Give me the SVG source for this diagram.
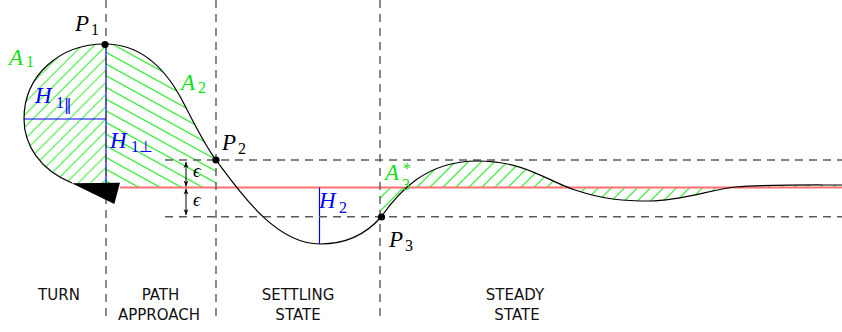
<svg xmlns="http://www.w3.org/2000/svg" width="842" height="332" viewBox="0 0 842 332">
<style>
.dash{stroke:#5a5a5a;stroke-width:1.4;stroke-dasharray:8 6;fill:none}
.curve{stroke:#000;stroke-width:1.2;fill:none}
.blue{stroke:#0000ff;stroke-width:1.2;fill:none}
.math{font-family:"Liberation Serif","DejaVu Serif",serif;font-style:italic;font-size:23px}
.sub{font-family:"Liberation Serif","DejaVu Serif",serif;font-style:normal;font-size:16px}
.g{fill:#10e010}
.b{fill:#0000ff}
.k{fill:#000}
.lab{font-family:"DejaVu Sans",sans-serif;font-size:15px;fill:#111;text-anchor:middle}
.dot{fill:#000}
.hl{stroke:#22e622;stroke-width:1;fill:none}
</style>
<defs>
<pattern id="hNE" patternUnits="userSpaceOnUse" width="40" height="8.6" patternTransform="rotate(-45)">
<path class="hl" d="M0,4 H40"/>
</pattern>
<pattern id="hNE3" patternUnits="userSpaceOnUse" width="40" height="9.2" patternTransform="rotate(-45)">
<path class="hl" d="M0,4 H40"/>
</pattern>
<pattern id="hNW" patternUnits="userSpaceOnUse" width="40" height="10.25" patternTransform="rotate(28.8)">
<path class="hl" d="M0,5 H40"/>
</pattern>
<clipPath id="cA1"><path d="M105,44 C60,44 24,75 24,119 C24,145 40,170 72,183 L106,187.5 Z"/></clipPath>
<clipPath id="cA2"><path d="M106,44 C140,44 165,68 182,100 C192,119 204,144 216,160 L216,187.5 L106,187.5 Z"/></clipPath>
<clipPath id="cA3"><path clip-rule="evenodd" d="M381,217 C398,193 425,161 477,161 C525,161 545,180 575,190 C605,200 625,201 650,201 C680,201 710,190 735,187 C770,184.5 800,185 842,185 L842,187.5 L380,187.5 L380,218 Z"/></clipPath>
<marker id="ar" viewBox="0 0 10 10" refX="10" refY="5" markerWidth="6" markerHeight="6" orient="auto-start-reverse" markerUnits="userSpaceOnUse">
<path d="M0,1 L10,5 L0,9 L3,5 Z" fill="#000"/>
</marker>
</defs>

<g id="hatching">
<rect x="0" y="30" width="120" height="170" fill="url(#hNE)" clip-path="url(#cA1)"/>
<rect x="100" y="30" width="130" height="170" fill="url(#hNW)" clip-path="url(#cA2)"/>
<rect x="375" y="150" width="467" height="80" fill="url(#hNE3)" clip-path="url(#cA3)"/>
</g>

<g id="reference-line">
<line x1="120" y1="187.5" x2="842" y2="187.5" stroke="#ff7070" stroke-width="1.8"/>
</g>

<g id="heights">
<line class="blue" x1="106" y1="44" x2="106" y2="187.5"/>
<line class="blue" x1="24" y1="119" x2="106" y2="119"/>
<line class="blue" x1="319.5" y1="187.5" x2="319.5" y2="244"/>
</g>

<g id="connectors">
<line class="dash" x1="106" y1="0" x2="106" y2="322"/>
<line class="dash" x1="216" y1="0" x2="216" y2="322"/>
<line class="dash" x1="380" y1="0" x2="380" y2="322"/>
<line class="dash" x1="165" y1="160" x2="842" y2="160"/>
<line class="dash" x1="165" y1="216.7" x2="842" y2="216.7"/>
<line x1="186" y1="162" x2="186" y2="186.5" stroke="#000" stroke-width="1" marker-start="url(#ar)" marker-end="url(#ar)"/>
<line x1="186" y1="188.5" x2="186" y2="215" stroke="#000" stroke-width="1" marker-start="url(#ar)" marker-end="url(#ar)"/>
</g>

<g id="path">
<path class="curve" d="M72,183 C40,170 24,145 24,119 C24,75 60,44 105,44 C140,44 165,68 182,100 C192,119 204,144 216,160 C240,192 275,244 320,244 C350,244 368,232 381,217 C398,193 425,161 477,161 C525,161 545,180 575,190 C605,200 625,201 650,201 C680,201 710,190 735,187 C770,184.5 800,185 842,185"/>
</g>

<g id="vehicle">
<path d="M71.7,183.3 L120,182.7 L114.3,204 Z" fill="#000"/>
</g>

<g id="P1"><circle class="dot" cx="105" cy="44.5" r="3.6"/>
<text class="math k" x="75" y="31">P<tspan class="sub" x="91" y="35">1</tspan></text></g>
<g id="P2"><circle class="dot" cx="216" cy="160" r="3.6"/>
<text class="math k" x="222" y="150">P<tspan class="sub" x="238" y="154">2</tspan></text></g>
<g id="P3"><circle class="dot" cx="381.5" cy="217" r="3.6"/>
<text class="math k" x="389" y="247">P<tspan class="sub" x="405" y="251">3</tspan></text></g>

<g id="A1"><text class="math g" x="9" y="65">A<tspan class="sub" x="26" y="67">1</tspan></text></g>
<g id="A2"><text class="math g" x="181" y="90">A<tspan class="sub" x="198" y="93">2</tspan></text></g>
<g id="A3"><text class="math g" x="385" y="180">A<tspan class="sub" x="402" y="190">3</tspan><tspan class="sub" x="403" y="174">*</tspan></text></g>

<g id="H1par"><text class="math b" x="35" y="103">H<tspan class="sub" x="56" y="108">1</tspan><tspan x="64" y="110" style="font-family:'DejaVu Sans',sans-serif;font-style:normal;font-size:15px">‖</tspan></text></g>
<g id="H1perp"><text class="math b" x="110" y="148">H<tspan class="sub" x="131" y="152">1</tspan><tspan x="139" y="152" style="font-family:'DejaVu Sans',sans-serif;font-style:normal;font-size:16px">⊥</tspan></text></g>
<g id="H2"><text class="math b" x="319" y="208">H<tspan class="sub" x="339" y="213">2</tspan></text></g>

<g id="eps">
<text class="math k" x="193" y="177" style="font-size:19px">ϵ</text>
<text class="math k" x="193" y="206" style="font-size:19px">ϵ</text>
</g>

<g id="labels">
<text class="lab" x="59" y="299.5">TURN</text>
<text class="lab" x="160.5" y="299.5">PATH</text>
<text class="lab" x="159" y="320">APPROACH</text>
<text class="lab" x="298" y="299.5">SETTLING</text>
<text class="lab" x="298" y="320">STATE</text>
<text class="lab" x="515" y="299.5">STEADY</text>
<text class="lab" x="517" y="320">STATE</text>
</g>
</svg>
